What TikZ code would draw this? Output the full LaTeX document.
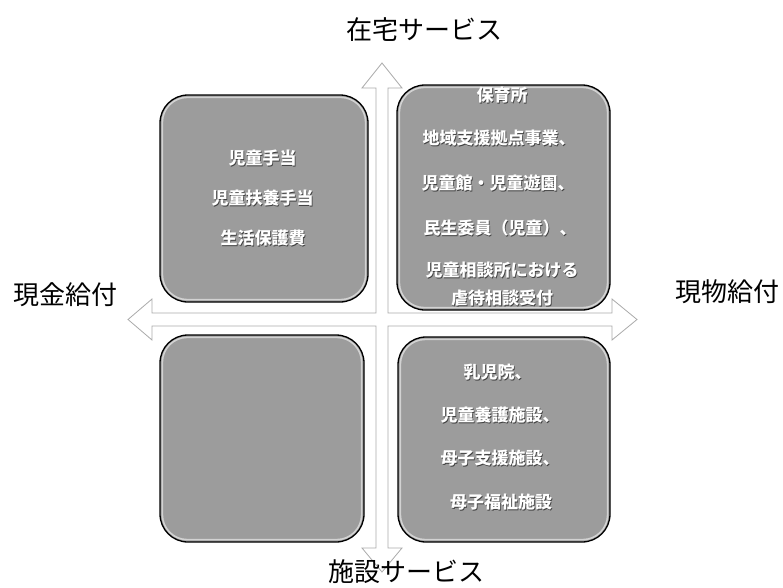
\documentclass[tikz,border=0pt]{standalone}
\usepackage{fontspec}
\setmainfont{Noto Sans CJK JP}
\definecolor{boxgray}{RGB}{156,156,156}
\definecolor{arrowline}{RGB}{170,170,170}
\begin{document}
\begin{tikzpicture}[x=1pt,y=-1pt,
  qbox/.style={draw=black, line width=1.3pt, fill=boxgray, rounded corners=28pt, inner sep=0pt},
  hilite/.style={draw=white, opacity=0.55, line width=1.6pt, rounded corners=25pt},
  btext/.style={text=white, font=\fontsize{17}{17}\selectfont\bfseries, inner sep=0pt},
  bshadow/.style={text=black!75, font=\fontsize{17}{17}\selectfont\bfseries, inner sep=0pt, xshift=0.8pt, yshift=-0.8pt},
  axlabel/.style={text=black, font=\fontsize{26}{26}\selectfont, inner sep=0pt}
]
\useasboundingbox (0,0) rectangle (783,587);
% cross-shaped double arrows
\draw[draw=arrowline, fill=white, line width=0.8pt, line join=miter]
  (382,63) -- (402,88) -- (388,88) -- (388,313) -- (612,313) -- (612,299) -- (637,319.5)
  -- (612,340) -- (612,326) -- (388,326) -- (388,548) -- (402,548) -- (382,572)
  -- (362,548) -- (376,548) -- (376,326) -- (152,326) -- (152,340) -- (128,319.5)
  -- (152,299) -- (152,313) -- (376,313) -- (376,88) -- (362,88) -- cycle;
% boxes
\node[qbox, minimum width=208pt, minimum height=207pt] (tl) at (264,198.5) {};
\node[qbox, minimum width=213pt, minimum height=225pt] (tr) at (503.5,197.5) {};
\node[qbox, minimum width=204pt, minimum height=207pt] (bl) at (262,438.5) {};
\node[qbox, minimum width=212pt, minimum height=205pt] (br) at (504,439.5) {};
\foreach \b in {tl,tr,bl,br}{
  \draw[hilite] ([shift={(3,3)}]\b.north west) rectangle ([shift={(-3,-3)}]\b.south east);
}
% box texts
\newcommand\bline[4]{%
  \node[bshadow] at (#2,#3) {#4};
  \node[btext] (#1) at (#2,#3) {#4};}
\bline{tl1}{262.5}{158}{児童手当}
\bline{tl2}{262.5}{198}{児童扶養手当}
\bline{tl3}{263}{238}{生活保護費}
\bline{tr1}{502}{95}{保育所}
\bline{tr2}{499}{138}{地域支援拠点事業、}
\bline{tr3}{498}{183}{児童館・児童遊園、}
\bline{tr4}{500}{228}{民生委員（児童）、}
\bline{tr5}{502}{270}{児童相談所における}
\bline{tr6}{502}{298}{虐待相談受付}
\bline{br1}{497.5}{372}{乳児院、}
\bline{br2}{500}{415}{児童養護施設、}
\bline{br3}{500}{458}{母子支援施設、}
\bline{br4}{501}{502}{母子福祉施設}
% axis labels
\node[axlabel] (top) at (424,30) {在宅サービス};
\node[axlabel] (left) at (65,295) {現金給付};
\node[axlabel] (right) at (727,292) {現物給付};
\node[axlabel] (bottom) at (406,572) {施設サービス};
\end{tikzpicture}
\end{document}
